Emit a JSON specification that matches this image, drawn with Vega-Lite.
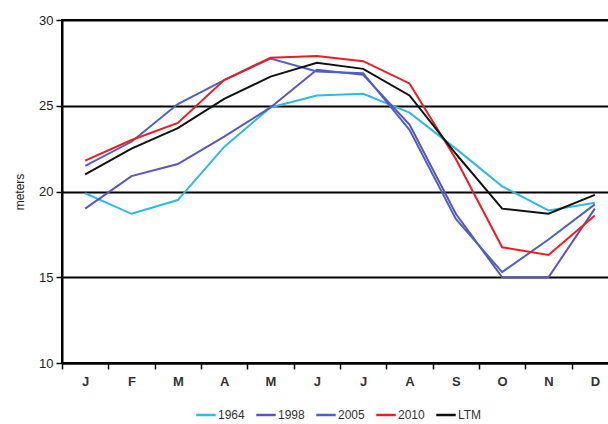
{
  "$schema": "https://vega.github.io/schema/vega-lite/v6.json",
  "width": 556,
  "height": 343,
  "autosize": {"type": "none"},
  "padding": {"left": 62, "top": 20, "right": 0, "bottom": 61},
  "background": "white",
  "config": {
    "font": "Liberation Sans",
    "view": {"stroke": "black", "strokeWidth": 2},
    "axis": {"labelColor": "#222", "titleColor": "#222", "labelFontSize": 13, "tickColor": "black", "domainColor": "black", "domainWidth": 2, "tickWidth": 1.5}
  },
  "data": {
    "values": [
      {"m": "Jan", "s": "1964", "v": 19.9}, {"m": "Feb", "s": "1964", "v": 18.7}, {"m": "Mar", "s": "1964", "v": 19.5}, {"m": "Apr", "s": "1964", "v": 22.6}, {"m": "May", "s": "1964", "v": 24.9}, {"m": "Jun", "s": "1964", "v": 25.6}, {"m": "Jul", "s": "1964", "v": 25.7}, {"m": "Aug", "s": "1964", "v": 24.6}, {"m": "Sep", "s": "1964", "v": 22.5}, {"m": "Oct", "s": "1964", "v": 20.3}, {"m": "Nov", "s": "1964", "v": 18.9}, {"m": "Dec", "s": "1964", "v": 19.35},
      {"m": "Jan", "s": "1998", "v": 19.0}, {"m": "Feb", "s": "1998", "v": 20.9}, {"m": "Mar", "s": "1998", "v": 21.6}, {"m": "Apr", "s": "1998", "v": 23.2}, {"m": "May", "s": "1998", "v": 24.9}, {"m": "Jun", "s": "1998", "v": 27.1}, {"m": "Jul", "s": "1998", "v": 26.8}, {"m": "Aug", "s": "1998", "v": 23.9}, {"m": "Sep", "s": "1998", "v": 18.7}, {"m": "Oct", "s": "1998", "v": 15.0}, {"m": "Nov", "s": "1998", "v": 15.0}, {"m": "Dec", "s": "1998", "v": 19.0},
      {"m": "Jan", "s": "2005", "v": 21.5}, {"m": "Feb", "s": "2005", "v": 22.9}, {"m": "Mar", "s": "2005", "v": 25.1}, {"m": "Apr", "s": "2005", "v": 26.5}, {"m": "May", "s": "2005", "v": 27.75}, {"m": "Jun", "s": "2005", "v": 27.0}, {"m": "Jul", "s": "2005", "v": 26.9}, {"m": "Aug", "s": "2005", "v": 23.6}, {"m": "Sep", "s": "2005", "v": 18.4}, {"m": "Oct", "s": "2005", "v": 15.3}, {"m": "Nov", "s": "2005", "v": 17.2}, {"m": "Dec", "s": "2005", "v": 19.25},
      {"m": "Jan", "s": "2010", "v": 21.8}, {"m": "Feb", "s": "2010", "v": 23.0}, {"m": "Mar", "s": "2010", "v": 24.0}, {"m": "Apr", "s": "2010", "v": 26.5}, {"m": "May", "s": "2010", "v": 27.8}, {"m": "Jun", "s": "2010", "v": 27.9}, {"m": "Jul", "s": "2010", "v": 27.6}, {"m": "Aug", "s": "2010", "v": 26.3}, {"m": "Sep", "s": "2010", "v": 21.9}, {"m": "Oct", "s": "2010", "v": 16.75}, {"m": "Nov", "s": "2010", "v": 16.3}, {"m": "Dec", "s": "2010", "v": 18.6},
      {"m": "Jan", "s": "LTM", "v": 21.0}, {"m": "Feb", "s": "LTM", "v": 22.5}, {"m": "Mar", "s": "LTM", "v": 23.7}, {"m": "Apr", "s": "LTM", "v": 25.4}, {"m": "May", "s": "LTM", "v": 26.7}, {"m": "Jun", "s": "LTM", "v": 27.5}, {"m": "Jul", "s": "LTM", "v": 27.15}, {"m": "Aug", "s": "LTM", "v": 25.6}, {"m": "Sep", "s": "LTM", "v": 22.2}, {"m": "Oct", "s": "LTM", "v": 19.0}, {"m": "Nov", "s": "LTM", "v": 18.7}, {"m": "Dec", "s": "LTM", "v": 19.8}
    ]
  },
  "mark": {"type": "line", "strokeWidth": 2},
  "encoding": {
    "x": {
      "field": "m", "type": "ordinal",
      "sort": ["Jan", "Feb", "Mar", "Apr", "May", "Jun", "Jul", "Aug", "Sep", "Oct", "Nov", "Dec"],
      "scale": {"type": "band", "paddingInner": 0, "paddingOuter": 0},
      "axis": {"title": null, "labelExpr": "substring(datum.label, 0, 1)", "labelAngle": 0, "tickBand": "extent", "tickSize": 6, "labelPadding": 6, "grid": false, "labelFontWeight": "bold", "labelColor": "#333"}
    },
    "y": {
      "field": "v", "type": "quantitative",
      "scale": {"domain": [10, 30], "nice": false, "zero": false},
      "axis": {"title": "meters", "titleFontSize": 12, "titleFontWeight": "normal", "titlePadding": 12, "values": [10, 15, 20, 25, 30], "grid": true, "gridColor": "black", "gridWidth": 2, "gridOpacity": 1, "tickSize": 6, "labelPadding": 3}
    },
    "color": {
      "field": "s", "type": "nominal",
      "scale": {"domain": ["1964", "1998", "2005", "2010", "LTM"], "range": ["#2bbbe3", "#5b55b8", "#4a62c2", "#ec1c24", "#111111"]},
      "legend": {"title": null, "orient": "none", "legendX": 133, "legendY": 384, "direction": "horizontal", "symbolType": "stroke", "symbolStrokeWidth": 2.5, "symbolSize": 380, "labelFontSize": 12, "labelColor": "#333", "columnPadding": 6, "symbolOffset": 0, "labelOffset": 1}
    },
    "order": {"field": "s"}
  }
}
